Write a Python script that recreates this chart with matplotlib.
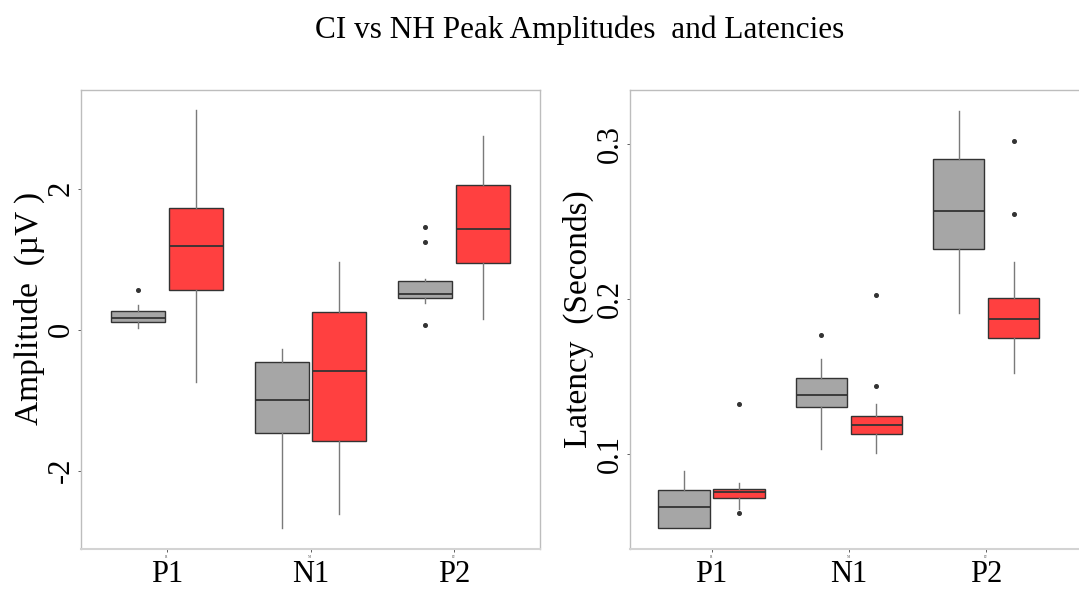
import matplotlib
matplotlib.use("Agg")
import matplotlib.pyplot as plt
import matplotlib.transforms as mtransforms

plt.rcParams['font.family'] = ['Liberation Serif', 'DejaVu Serif']

# ---- data -------------------------------------------------------------
peaks = ["P1", "N1", "P2"]
groups = ["NH", "CI"]
group_colors = {"NH": "#A6A6A6", "CI": "#FF4040"}

# Amplitude (uV): per peak -> [low whisker, Q1, median, Q3, high whisker]
amp_nh = {
    "P1": [0.03, 0.11, 0.17, 0.27, 0.35],
    "N1": [-2.81, -1.47, -1.00, -0.46, -0.27],
    "P2": [0.38, 0.45, 0.51, 0.69, 0.72],
}
amp_ci = {
    "P1": [-0.74, 0.57, 1.19, 1.73, 3.11],
    "N1": [-2.61, -1.58, -0.59, 0.25, 0.96],
    "P2": [0.15, 0.94, 1.43, 2.05, 2.75],
}
amp_nh_out = {"P1": [0.56], "N1": [], "P2": [1.45, 1.24, 0.07]}
amp_ci_out = {"P1": [], "N1": [], "P2": []}

# Latency (s): per peak -> [low whisker, Q1, median, Q3, high whisker]
lat_nh = {
    "P1": [0.0521, 0.0521, 0.0658, 0.0766, 0.0890],
    "N1": [0.1030, 0.1301, 0.1381, 0.1488, 0.1613],
    "P2": [0.1908, 0.2325, 0.2570, 0.2901, 0.3213],
}
lat_ci = {
    "P1": [0.0643, 0.0714, 0.0755, 0.0776, 0.0813],
    "N1": [0.1008, 0.1127, 0.1187, 0.1245, 0.1323],
    "P2": [0.1521, 0.1750, 0.1869, 0.2005, 0.2239],
}
lat_nh_out = {"P1": [], "N1": [0.1770], "P2": []}
lat_ci_out = {"P1": [0.1322, 0.0621], "N1": [0.1439, 0.2024], "P2": [0.3019, 0.2550]}

amp_ticks = [-2, 0, 2]
amp_tick_labels = ["-2", "0", "2"]
lat_ticks = [0.1, 0.2, 0.3]
lat_tick_labels = ["0.1", "0.2", "0.3"]

# ---- figure -----------------------------------------------------------
fig = plt.figure(figsize=(10.79, 5.95), dpi=100)
W, H = 1079.0, 595.0

ax1 = fig.add_axes([81 / W, (H - 549) / H, 459 / W, 459 / H])
# the latency panel runs past the right edge of the canvas
ax2 = fig.add_axes([630 / W, (H - 549) / H, 470 / W, 459 / H])

frame_col = "#BDBDBD"
edge_col = "#333333"
whisk_col = "#7A7A7A"


def make_stats(summary, outliers):
    lo, q1, med, q3, hi = summary
    return dict(whislo=lo, q1=q1, med=med, q3=q3, whishi=hi, fliers=outliers)


def draw_panel(ax, nh, ci, nh_out, ci_out):
    for g, src, out in [("NH", nh, nh_out), ("CI", ci, ci_out)]:
        stats = [make_stats(src[p], out[p]) for p in peaks]
        offset = -0.2 if g == "NH" else 0.2
        pos = [i + offset for i in range(len(peaks))]
        ax.bxp(stats, positions=pos, widths=0.375, patch_artist=True,
               showcaps=False, manage_ticks=False,
               boxprops=dict(facecolor=group_colors[g], edgecolor=edge_col, linewidth=1.0),
               medianprops=dict(color=edge_col, linewidth=1.3),
               whiskerprops=dict(color=whisk_col, linewidth=1.0),
               flierprops=dict(marker="o", markersize=2.6, markerfacecolor=edge_col,
                               markeredgecolor=edge_col))


draw_panel(ax1, amp_nh, amp_ci, amp_nh_out, amp_ci_out)
draw_panel(ax2, lat_nh, lat_ci, lat_nh_out, lat_ci_out)

ax1.set_xlim(-0.6, 2.6)
ax1.set_ylim(-3.11, 3.40)
ax2.set_xlim(-0.595, 2.83)
ax2.set_ylim(0.0387, 0.3348)

ax1.set_yticks(amp_ticks)
ax1.set_yticklabels(amp_tick_labels)
ax2.set_yticks(lat_ticks)
ax2.set_yticklabels(lat_tick_labels)

for ax in (ax1, ax2):
    ax.set_xticks(range(len(peaks)))
    ax.set_xticklabels(peaks)
    for s in ax.spines.values():
        s.set_color(frame_col)
        s.set_linewidth(1.0)
    ax.spines["bottom"].set_color("#D3D3D3")
    ax.spines["bottom"].set_linewidth(1.5)
    ax.tick_params(axis="both", length=2, width=0.6, color="#444444", labelsize=22)
    ax.tick_params(axis="x", pad=6)
    ax.tick_params(axis="y", pad=2)
    for lab in ax.get_yticklabels():
        lab.set_rotation(90)
        lab.set_va("center")
    # tiny category captions just below the axis
    trans = mtransforms.blended_transform_factory(ax.transData, ax.transAxes)
    for i, p in enumerate(peaks):
        ax.text(i, -0.012, p, transform=trans, fontsize=2.5, color="#555555",
                ha="center", va="top")

ax2.spines["right"].set_visible(False)

ax1.set_ylabel("Amplitude  (\u00b5V )", fontsize=24, labelpad=1)
ax2.set_ylabel("Latency  (Seconds)", fontsize=24, labelpad=1)
ax1.yaxis.label.set_y(0.525)

fig.text(580 / W, 1 - 30 / H, "CI vs NH Peak Amplitudes  and Latencies",
         fontsize=22.5, ha="center", va="center")

fig.savefig("out.png", dpi=100)
